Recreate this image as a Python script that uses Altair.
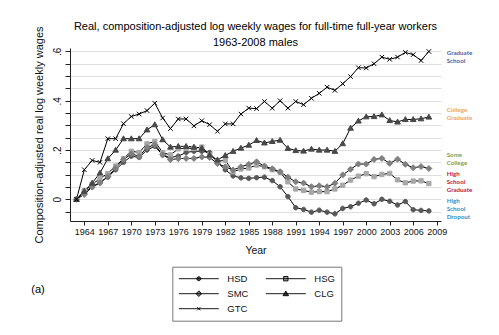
import altair as alt
import pandas as pd

years = list(range(1963, 2009))
codes = ["HSD", "HSG", "SMC", "CLG", "GTC"]
legend_order = ["HSD", "SMC", "GTC", "HSG", "CLG"]

hsd = [0.0, 0.03, 0.05, 0.07, 0.09, 0.12, 0.15, 0.175, 0.17, 0.20, 0.215, 0.18, 0.17, 0.175, 0.19, 0.195, 0.195,
       0.19, 0.15, 0.12, 0.095, 0.087, 0.085, 0.088, 0.09, 0.076, 0.051,
       0.011, -0.034, -0.041, -0.052, -0.044, -0.052, -0.059, -0.037, -0.03, -0.016,
       -0.003, -0.018, 0.0, -0.008, -0.023, -0.009, -0.042, -0.045, -0.047]
hsg = [0.0, 0.035, 0.06, 0.085, 0.105, 0.135, 0.165, 0.195, 0.19, 0.225, 0.235, 0.19, 0.18, 0.205, 0.207, 0.207, 0.212,
       0.18, 0.155, 0.158, 0.112, 0.123, 0.127, 0.139, 0.132, 0.12, 0.11,
       0.071, 0.042, 0.036, 0.029, 0.031, 0.031, 0.042, 0.057, 0.078, 0.094,
       0.104, 0.092, 0.101, 0.105, 0.079, 0.067, 0.074, 0.075, 0.064]
smc = [0.0, 0.02, 0.05, 0.066, 0.093, 0.127, 0.161, 0.185, 0.174, 0.21, 0.222, 0.181, 0.161, 0.165, 0.166, 0.166, 0.172,
       0.17, 0.145, 0.132, 0.119, 0.132, 0.142, 0.152, 0.135, 0.124, 0.112,
       0.09, 0.071, 0.066, 0.051, 0.055, 0.051, 0.065, 0.099, 0.122, 0.143,
       0.143, 0.162, 0.166, 0.146, 0.163, 0.142, 0.128, 0.133, 0.125]
clg = [0.0, 0.033, 0.066, 0.107, 0.165, 0.20, 0.246, 0.246, 0.246, 0.282, 0.303, 0.242, 0.212, 0.215, 0.215, 0.212, 0.208,
       0.18, 0.16, 0.178, 0.195, 0.208, 0.22, 0.239, 0.229, 0.235, 0.24,
       0.207, 0.198, 0.196, 0.204, 0.20, 0.20, 0.195, 0.226, 0.289, 0.318,
       0.335, 0.336, 0.343, 0.32, 0.314, 0.324, 0.324, 0.327, 0.334]
gtc = [0.0, 0.12, 0.158, 0.15, 0.246, 0.246, 0.307, 0.336, 0.346, 0.36, 0.39, 0.33, 0.287, 0.326, 0.326, 0.298, 0.319,
       0.303, 0.276, 0.306, 0.306, 0.346, 0.37, 0.368, 0.397, 0.37, 0.40,
       0.37, 0.397, 0.384, 0.41, 0.43, 0.455, 0.442, 0.469, 0.498, 0.534,
       0.533, 0.55, 0.577, 0.568, 0.577, 0.596, 0.587, 0.563, 0.60]

x_ticks = list(range(1964, 2010, 3))
y_ticks = [round(-0.05 + 0.05 * i, 2) for i in range(14)]

side_labels = ["Graduate\nSchool", "College\nGraduate", "Some\nCollege", "High\nSchool\nGraduate", "High\nSchool\nDropout"]
side_label_y = [0.606, 0.374, 0.192, 0.115, 0.004]
side_label_colors = ["#565a9c", "#f0a35a", "#83a04a", "#c41a2a", "#2a90c8"]

series_values = {"HSD": hsd, "HSG": hsg, "SMC": smc, "CLG": clg, "GTC": gtc}
rows = []
for c in codes:
    for yr, v in zip(years, series_values[c]):
        rows.append({"year": yr, "value": v, "series": c})
df = pd.DataFrame(rows)

shape_of = {
    "HSD": "M0.75,0A0.75,0.75,0,1,1,-0.75,0A0.75,0.75,0,1,1,0.75,0Z",
    "HSG": "M-0.72,-0.72H0.72V0.72H-0.72Z",
    "SMC": "M0,-1L1,0L0,1L-1,0Z",
    "CLG": "M0,-0.95L0.95,0.7L-0.95,0.7Z",
    "GTC": "M-0.75,-0.75L0.75,0.75M-0.75,0.75L0.75,-0.75",
}
fill_of = {"HSD": "#585858", "HSG": "#a8a8a8", "SMC": "#808080", "CLG": "#484848", "GTC": "#000000"}
legend_shape_of = {
    "HSD": "M-1,0H1M0.1,0A0.1,0.1,0,1,1,-0.1,0A0.1,0.1,0,1,1,0.1,0Z",
    "HSG": "M-1,0H1M-0.11,-0.11H0.11V0.11H-0.11Z",
    "SMC": "M-1,0H1M0,-0.14L0.14,0L0,0.14L-0.14,0Z",
    "CLG": "M-1,0H1M0,-0.13L0.14,0.1L-0.14,0.1Z",
    "GTC": "M-1,0H1M-0.08,-0.08L0.08,0.08M-0.08,0.08L0.08,-0.08",
}

FONT = "Liberation Sans"

x_axis = alt.Axis(values=x_ticks, format="d", title="Year", grid=False,
                  labelFontSize=9, tickSize=4, labelPadding=2,
                  titleFontSize=10.5, titlePadding=9, labelFlush=False,
                  labelOverlap=False)
y_axis = alt.Axis(values=y_ticks, grid=True, title="Composition-adjusted real log weekly wages",
                  labelExpr="datum.value == 0 ? '0' : (abs(datum.value - 0.2) < 0.001 ? '.2' : (abs(datum.value - 0.4) < 0.001 ? '.4' : (abs(datum.value - 0.6) < 0.001 ? '.6' : '')))",
                  labelAngle=270, labelFontSize=10, tickSize=5, labelPadding=3,
                  titleFontSize=11, titlePadding=8, labelOverlap=False, labelFlush=False)
x_scale = alt.Scale(domain=[1962.17, 2009.55], nice=False, zero=False)
y_scale = alt.Scale(domain=[-0.088, 0.614], nice=False, zero=False)
x_enc = alt.X("year:Q", scale=x_scale, axis=x_axis)
y_enc = alt.Y("value:Q", scale=y_scale, axis=y_axis)

base = alt.Chart(df)

lines = base.mark_line(color="black", strokeWidth=1).encode(x=x_enc, y=y_enc, detail="series:N")

points = base.mark_point(size=36, opacity=1, strokeWidth=1, filled=False).encode(
    x=x_enc, y=y_enc,
    shape=alt.Shape("series:N", scale=alt.Scale(domain=codes, range=[shape_of[c] for c in codes]), legend=None),
    fill=alt.Fill("series:N", scale=alt.Scale(domain=codes, range=[fill_of[c] for c in codes]), legend=None),
    stroke=alt.Stroke("series:N", scale=alt.Scale(domain=codes, range=[fill_of[c] for c in codes]), legend=None),
)

leg = alt.Legend(orient="none", legendX=102.3, legendY=218.7, columns=2, title=None,
                 padding=6, strokeColor="#777", fillColor="white",
                 labelFontSize=9.5, labelFont=FONT, labelColor="#111",
                 symbolSize=1600, clipHeight=12, labelOffset=8, columnPadding=16, rowPadding=3,
                 symbolStrokeWidth=0.9, symbolOpacity=1)

legend_layer = base.transform_filter("datum.year < 0").mark_point(opacity=1, filled=False).encode(
    x=x_enc, y=y_enc,
    shape=alt.Shape("series:N", scale=alt.Scale(domain=legend_order, range=[legend_shape_of[c] for c in legend_order]), legend=leg),
    fill=alt.Fill("series:N", scale=alt.Scale(domain=legend_order, range=[fill_of[c] for c in legend_order]), legend=leg),
    stroke=alt.Stroke("series:N", scale=alt.Scale(domain=legend_order, range=["#000000"] * 5), legend=leg),
)

lab_df = pd.DataFrame({"txt": side_labels, "value": side_label_y, "col": side_label_colors,
                       "year": [2010.28] * len(side_labels)})
side = alt.Chart(lab_df).mark_text(align="left", baseline="top", font="Lato", fontSize=6.2,
                                   fontWeight="bold", lineBreak="\n", lineHeight=8).encode(
    x=x_enc, y=y_enc, text="txt:N", color=alt.Color("col:N", scale=None))

panel = alt.Chart(pd.DataFrame({"t": ["(a)"]})).mark_text(font=FONT, fontSize=11, color="black").encode(
    text="t:N", x=alt.value(-32), y=alt.value(242))

chart = alt.layer(lines, points, legend_layer, side, panel).resolve_scale(
    shape="independent", fill="independent", stroke="independent"
).properties(
    width=371, height=173,
    title=alt.TitleParams(
        text=["Real, composition-adjusted log weekly wages for full-time full-year workers", "1963-2008 males"],
        font=FONT, fontSize=11, fontWeight="normal", anchor="middle", offset=3, dy=25.5, lineHeight=16.5, color="black"),
    autosize=alt.AutoSizeParams(type="none"),
    padding={"left": 70, "top": 48, "right": 58, "bottom": 114},
).configure_view(stroke=None).configure_axis(
    domainColor="#222", tickColor="#222", labelColor="#111", titleColor="#111",
    labelFont=FONT, titleFont=FONT, titleFontWeight="normal", gridColor="#dedede", gridWidth=1,
    domainWidth=1, tickWidth=1
)

chart.save("out.html", embed_options={"renderer": "svg", "actions": False})
